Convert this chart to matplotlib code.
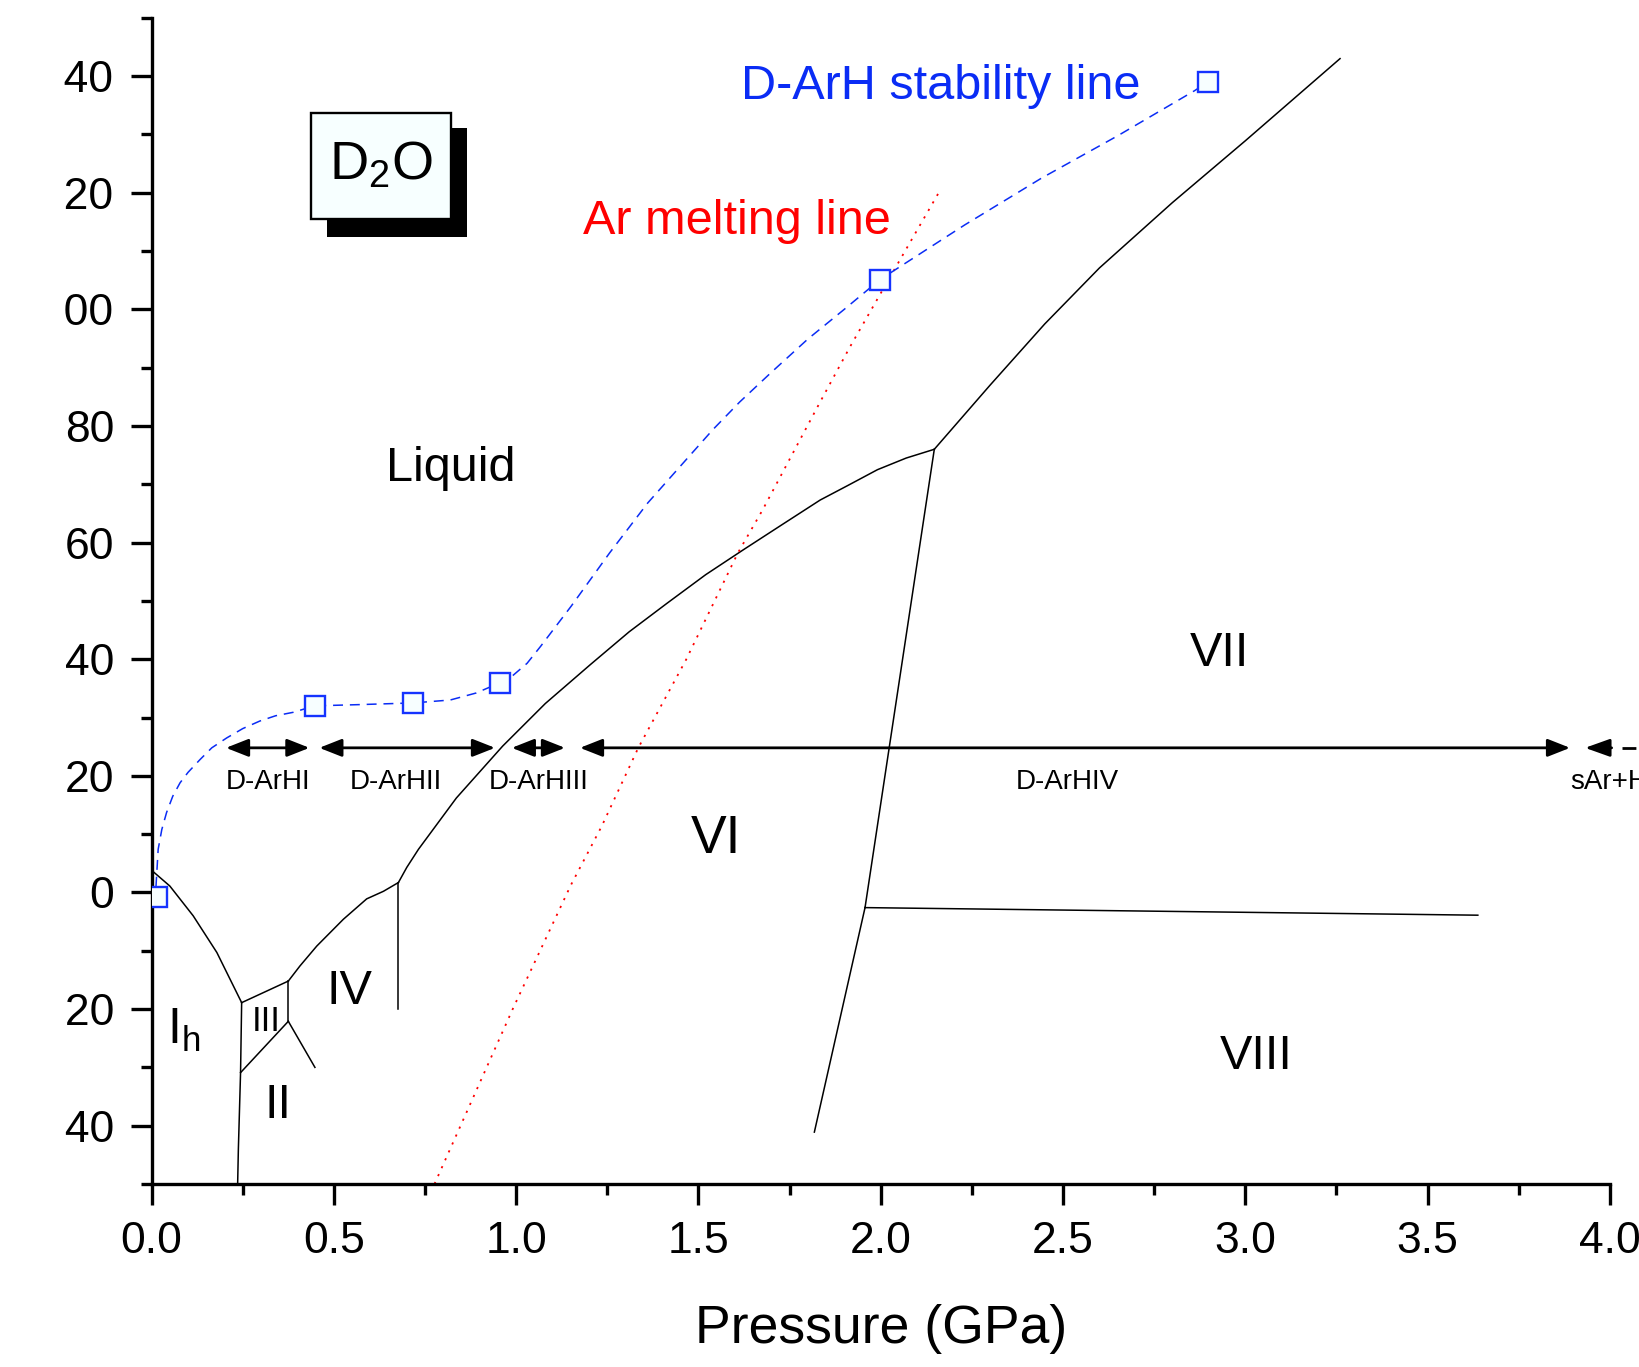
import matplotlib
matplotlib.use("Agg")
import matplotlib.pyplot as plt
from matplotlib.patches import Rectangle
from matplotlib.transforms import Bbox, TransformedBbox

plt.rcParams['font.family'] = ['Liberation Sans', 'DejaVu Sans']
plt.rcParams['axes.unicode_minus'] = False

# phase boundaries of D2O, pressure (GPa) vs temperature (C)
ih_liq_p = [0.0, 0.05, 0.114, 0.179, 0.247]
ih_liq_t = [3.8, 1.1, -4.0, -10.3, -18.9]
ih_low_p = [0.247, 0.244, 0.238, 0.236]
ih_low_t = [-18.9, -30.9, -44.0, -50.0]
iii_liq_p = [0.247, 0.375]
iii_liq_t = [-18.9, -15.2]
iii_ii_p = [0.244, 0.375]
iii_ii_t = [-30.9, -22.1]
iii_v_p = [0.375, 0.375]
iii_v_t = [-15.2, -22.1]
ii_v_p = [0.375, 0.448]
ii_v_t = [-22.1, -30.0]
v_liq_p = [0.375, 0.407, 0.453, 0.526, 0.590, 0.636, 0.677]
v_liq_t = [-15.2, -12.6, -9.2, -4.6, -1.1, 0.2, 1.7]
v_vi_p = [0.677, 0.677]
v_vi_t = [1.7, -20.0]
vi_liq_p = [0.677, 0.700, 0.732, 0.836, 0.963, 1.080, 1.204, 1.310, 1.414, 1.520,
            1.624, 1.730, 1.834, 1.910, 1.991, 2.070, 2.147]
vi_liq_t = [1.7, 4.3, 7.4, 16.2, 25.1, 32.4, 39.1, 44.7, 49.6, 54.5,
            58.8, 63.1, 67.3, 69.8, 72.5, 74.5, 76.0]
vii_liq_p = [2.147, 2.300, 2.450, 2.600, 2.800, 3.000, 3.260]
vii_liq_t = [76.0, 87.0, 97.5, 107.1, 118.3, 128.9, 143.0]
vi_vii_p = [2.147, 1.957]
vi_vii_t = [76.0, -2.6]
vii_viii_p = [1.957, 3.638]
vii_viii_t = [-2.6, -3.9]
vi_viii_p = [1.957, 1.818]
vi_viii_t = [-2.6, -41.1]

# Ar melting line
ar_p = [0.776, 0.992, 1.150, 1.235, 1.335, 1.466, 1.608, 1.676, 1.832, 1.916, 2.005, 2.160]
ar_t = [-50.0, -19.8, 1.25, 11.4, 24.8, 39.9, 58.2, 65.6, 83.9, 93.6, 103.3, 120.1]

# D-ArH stability line (measured points + drawn curve)
darh_p = [0.014, 0.447, 0.717, 0.957, 1.998, 2.897]
darh_t = [-0.7, 32.0, 32.5, 36.0, 105.1, 139.0]
curve_p = [0.012, 0.018, 0.028, 0.041, 0.058, 0.078, 0.100, 0.133, 0.165, 0.206,
           0.250, 0.297, 0.340, 0.389, 0.447, 0.563, 0.717, 0.819, 0.890, 0.957,
           0.989, 1.030, 1.067, 1.151, 1.256, 1.361, 1.466, 1.540, 1.613, 1.700,
           1.800, 1.900, 1.998, 2.231, 2.441, 2.651, 2.861, 2.897]
curve_t = [1.0, 7.4, 10.8, 13.7, 16.5, 18.8, 20.6, 22.8, 24.8, 26.5,
           28.1, 29.4, 30.3, 30.9, 32.0, 32.2, 32.5, 33.0, 34.2, 36.0,
           37.1, 39.3, 42.2, 49.1, 58.2, 66.8, 74.2, 79.4, 84.1, 89.2,
           94.9, 100.0, 105.1, 114.5, 122.5, 129.8, 137.5, 139.0]

# stability ranges of the hydrates
range_start = [0.204, 0.460, 0.988, 1.175]
range_end = [0.433, 0.942, 1.134, 3.891]
range_names = ["D-ArHI", "D-ArHII", "D-ArHIII", "D-ArHIV"]
range_label_p = [0.32, 0.669, 1.063, 2.511]
range_t = 24.8
last_range_start = 3.932

phase_names = ["Liquid", "VI", "VII", "VIII", "IV", "II", "III", r"$\mathregular{I_h}$"]
phase_p = [0.821, 1.548, 2.930, 3.031, 0.542, 0.348, 0.313, 0.087]
phase_t = [70.5, 6.8, 38.9, -30.3, -19.2, -38.6, -23.8, -26.0]
phase_size = [35, 38.5, 35, 35, 35, 35, 25, 36]

fig = plt.figure(figsize=(16.39, 13.67), dpi=100)
ax = fig.add_axes([0.0925, 0.13387, 0.88969, 0.85311])

lines = [(ih_liq_p, ih_liq_t), (ih_low_p, ih_low_t), (iii_liq_p, iii_liq_t),
         (iii_ii_p, iii_ii_t), (iii_v_p, iii_v_t), (ii_v_p, ii_v_t),
         (v_liq_p, v_liq_t), (v_vi_p, v_vi_t), (vi_liq_p, vi_liq_t),
         (vii_liq_p, vii_liq_t), (vi_vii_p, vi_vii_t), (vii_viii_p, vii_viii_t),
         (vi_viii_p, vi_viii_t)]
for p, t in lines:
    ax.plot(p, t, color='k', lw=1.1, solid_joinstyle='round')

ax.plot(ar_p, ar_t, color='red', lw=1.3, linestyle=(0, (1.2, 3.6)))
ax.plot(curve_p, curve_t, color='#0A2CF5', lw=1.1, dashes=(6.5, 4.5))
ax.plot(darh_p, darh_t, linestyle='none', marker='s', markersize=15,
        markerfacecolor='#F7FEFF', markeredgecolor='#1533FF', markeredgewidth=1.7,
        zorder=5)

# double arrows
head = '<|-|>,head_length=0.38,head_width=0.15'
for p0, p1 in zip(range_start, range_end):
    ax.annotate('', xy=(p1, range_t), xytext=(p0, range_t),
                arrowprops=dict(arrowstyle=head, mutation_scale=36, lw=2.0,
                                color='k', shrinkA=0, shrinkB=0))
ax.annotate('', xy=(last_range_start, range_t), xytext=(4.005, range_t),
            arrowprops=dict(arrowstyle='-|>,head_length=0.42,head_width=0.15',
                            mutation_scale=36, lw=2.0, color='k',
                            shrinkA=0, shrinkB=0), annotation_clip=False)
ax.plot([4.034, 4.3], [range_t, range_t], color='k', lw=2.0, dashes=(5, 4),
        clip_on=False)

for name, p in zip(range_names, range_label_p):
    ax.text(p, 17.7, name, fontsize=20, ha='center', va='baseline')
ax.text(3.891, 17.7, "sAr+H", fontsize=20, ha='left', va='baseline', clip_on=False)

for name, p, t, s in zip(phase_names, phase_p, phase_t, phase_size):
    ax.text(p, t, name, fontsize=s, ha='center', va='baseline')

ax.text(1.617, 136.0, "D-ArH stability line", fontsize=35, color='#0A2CF5',
        ha='left', va='baseline')
ax.text(1.184, 112.9, "Ar melting line", fontsize=35, color='red',
        ha='left', va='baseline')

# D2O label box with shadow
ax.add_patch(Rectangle((0.482, 112.4), 0.384, 18.7, facecolor='black',
                       edgecolor='none', zorder=6))
ax.add_patch(Rectangle((0.4364, 115.5), 0.3841, 18.2, facecolor='#F7FFFF',
                       edgecolor='black', lw=1.7, zorder=7))
ax.text(0.628, 122.2, r"$\mathregular{D_2O}$", fontsize=39, ha='center',
        va='baseline', zorder=8)

ax.set_xlim(0, 4)
ax.set_ylim(-50, 150)
ax.set_xticks([0.0, 0.5, 1.0, 1.5, 2.0, 2.5, 3.0, 3.5, 4.0])
ax.set_xticks([0.25, 0.75, 1.25, 1.75, 2.25, 2.75, 3.25, 3.75], minor=True)
ax.set_xticklabels(["0.0", "0.5", "1.0", "1.5", "2.0", "2.5", "3.0", "3.5", "4.0"])
ax.set_yticks(list(range(-40, 141, 20)))
ax.set_yticks(list(range(-50, 151, 20)), minor=True)
ax.set_yticklabels([str(v) for v in range(-40, 141, 20)])

for side in ['top', 'right']:
    ax.spines[side].set_visible(False)
for side in ['left', 'bottom']:
    ax.spines[side].set_linewidth(2.4)
ax.tick_params(which='major', direction='out', length=15, width=2.4,
               labelsize=32, pad=12)
ax.tick_params(which='minor', direction='out', length=8, width=2.4)

ax.set_xlabel("Pressure (GPa)", fontsize=38.5)
ax.xaxis.set_label_coords(0.5, -0.1363)
ax.xaxis.label.set_va('baseline')

# the page is cut on the left, the y labels are clipped there
clip = TransformedBbox(Bbox([[62.5 / 1639, 0], [1, 1]]), fig.transFigure)
for lab in ax.get_yticklabels():
    lab.set_clip_box(clip)
    lab.set_clip_on(True)

fig.savefig("out.png", dpi=100)
